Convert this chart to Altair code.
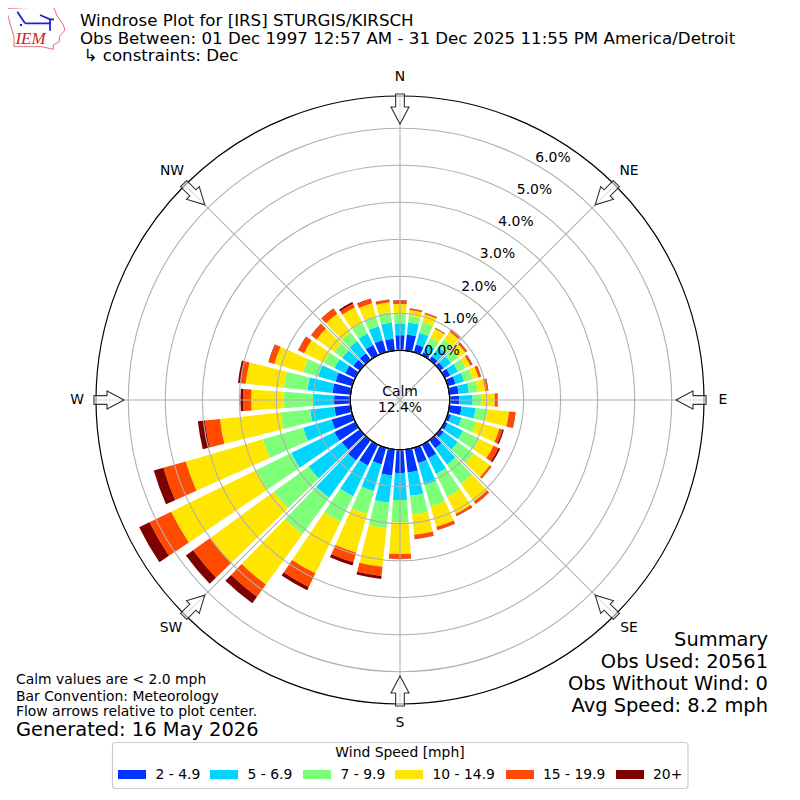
import math
import altair as alt
import pandas as pd

directions = list(range(0, 360, 10))
bands = ["2 - 4.9", "5 - 6.9", "7 - 9.9", "10 - 14.9", "15 - 19.9", "20+"]
colors = ["#0033ff", "#00d5ff", "#7dff7a", "#ffe600", "#ff4a00", "#7f0000"]
blue = [.41,.44,.22,.09,.12,.12,.17,.22,.25,.26,.33,.09,.09,.12,.27,.41,.43,.63,.63,.71,.47,.63,.68,.60,.63,.58,.44,.44,.49,.47,.31,.22,.22,.31,.34,.32]
cyan = [.32,.32,.33,.24,.31,.24,.23,.24,.28,.36,.38,.30,.46,.47,.55,.47,.62,.63,.73,.74,.75,.92,1.24,1.11,1.30,.80,.66,.57,.68,.49,.32,.37,.41,.35,.39,.44]
green = [.27,.18,.30,.20,.25,.23,.23,.24,.24,.24,.32,.41,.49,.53,.64,.69,.60,.51,.61,.69,.65,.77,1.22,1.16,1.05,1.13,.80,.80,.64,.42,.32,.27,.30,.31,.29,.28]
yellow = [.25,.16,.22,.27,.26,.25,.14,.16,.20,.36,.59,.65,.43,.54,.59,.51,.57,.55,.85,1.05,1.08,1.55,1.68,2.14,2.56,2.17,1.65,.87,1.04,.81,.59,.58,.61,.47,.36,.27]
orange = [.09,.04,.03,.02,.07,.05,.06,.07,.08,.07,.17,.09,.15,.05,.07,.06,.09,.11,.13,.25,.27,.41,.41,.56,.65,.63,.41,.22,.14,.16,.17,.18,.17,.11,.12,.07]
dark = [.01,.01,.01,.01,.01,.01,.01,.01,.01,.01,.01,.04,.05,.01,.01,.01,.01,.01,.01,.08,.09,.10,.22,.24,.31,.27,.19,.07,.07,.01,.01,.01,.01,.05,.01,.01]
series = [blue, cyan, green, yellow, orange, dark]
ring_values = [0, 1, 2, 3, 4, 5, 6]
compass = ["N", "NE", "E", "SE", "S", "SW", "W", "NW"]

FONT = "DejaVu Sans"
C = 392
R_OUT = 304
R_ZERO = 49.7
PX_PER = 37.0
P_MIN = -R_ZERO / PX_PER
P_MAX = (R_OUT - R_ZERO) / PX_PER
radius_scale = alt.Scale(domain=[P_MIN, P_MAX], range=[0, R_OUT], zero=False, nice=False)
theta_scale = alt.Scale(domain=[0, 360], range=[0, 2 * math.pi], zero=False, nice=False)
color_scale = alt.Scale(domain=bands, range=colors)
X = lambda f: alt.X(f, scale=None, axis=None)
Y = lambda f: alt.Y(f, scale=None, axis=None)

rows = []
for i, d in enumerate(directions):
    cum = 0.0
    for b, s in zip(bands, series):
        rows.append(dict(d=d, t0=d - 4, t1=d + 4, r0=cum, r1=cum + s[i], band=b))
        cum += s[i]
bars = alt.Chart(pd.DataFrame(rows)).mark_arc(stroke=None).encode(
    theta=alt.Theta("t0:Q", scale=theta_scale, stack=None),
    theta2="t1:Q",
    radius=alt.Radius("r1:Q", scale=radius_scale, stack=None),
    radius2="r0:Q",
    color=alt.Color("band:N", scale=color_scale, sort=None, legend=None),
)


def ring(values, color, width=1.1):
    return alt.Chart(pd.DataFrame({"p": values})).mark_arc(
        theta=0, theta2=2 * math.pi, fillOpacity=0, stroke=color, strokeWidth=width
    ).encode(radius=alt.Radius("p:Q", scale=radius_scale, stack=None))


rings = ring(ring_values, "#b0b0b0")
outer = ring([P_MAX], "black", 1.2)

spokes_df = pd.DataFrame([
    dict(x1=C, y1=C, x2=C + R_OUT * math.sin(math.radians(a)), y2=C - R_OUT * math.cos(math.radians(a)))
    for a in range(0, 360, 45)
])
spokes = alt.Chart(spokes_df).mark_rule(color="#b0b0b0", strokeWidth=1.1).encode(
    x=X("x1:Q"), y=Y("y1:Q"), x2="x2:Q", y2="y2:Q"
)

hub = alt.Chart(pd.DataFrame({"p": [0]})).mark_arc(
    theta=0, theta2=2 * math.pi, fill="white", stroke="black", strokeWidth=1.1
).encode(radius=alt.Radius("p:Q", scale=radius_scale, stack=None))

arrow_path = "M-.29,-1H.29V-.13H.6L0,1L-.6,-.13H-.29Z"
arrow_df = pd.DataFrame([
    dict(x=C + 291 * math.sin(math.radians(a)), y=C - 291 * math.cos(math.radians(a)), a=a)
    for a in range(0, 360, 45)
])
arrows = alt.Chart(arrow_df).mark_point(
    shape=arrow_path, size=900, filled=True, fill="white", fillOpacity=0.55,
    stroke="#333333", strokeWidth=1.1, opacity=1,
).encode(x=X("x:Q"), y=Y("y:Q"), angle=alt.Angle("a:Q", scale=None))


def text(items, size, align="center", color="black", **kw):
    df = pd.DataFrame([dict(t=t, x=x - 8, y=y - 8) for t, x, y in items])
    return alt.Chart(df).mark_text(
        font=kw.pop("font", FONT), fontSize=size, align=align, baseline="middle", color=color, **kw
    ).encode(x=X("x:Q"), y=Y("y:Q"), text="t:N")


titles = text([
    ("Windrose Plot for [IRS] STURGIS/KIRSCH", 80, 21),
    ("Obs Between: 01 Dec 1997 12:57 AM - 31 Dec 2025 11:55 PM America/Detroit", 80, 38.5),
    ("\u21b3 constraints: Dec", 83.5, 56),
], 16.67, "left")
compass_txt = text(list(zip(compass,
    [400, 629, 723, 629, 400, 171, 77, 172],
    [77, 171, 400, 628, 723, 628, 400, 171])), 13.9)
ring_txt = text([(f"{p:.1f}%", 442 + 18.5 * p, 351 - 32.2 * p) for p in ring_values], 13.9)
calm = text([("Calm", 400, 392), ("12.4%", 400, 408)], 13.9)
notes = text([
    ("Calm values are < 2.0 mph", 16, 680),
    ("Bar Convention: Meteorology", 16, 696.5),
    ("Flow arrows relative to plot center.", 16, 712),
], 13.9, "left")
generated = text([("Generated: 16 May 2026", 16, 729.5)], 19.44, "left")
summary = text([
    ("Summary", 768, 639.5),
    ("Obs Used: 20561", 768, 661.5),
    ("Obs Without Wind: 0", 768, 683.5),
    ("Avg Speed: 8.2 mph", 768, 705.5),
], 19.44, "right")

# legend panel
legend_box = alt.Chart(pd.DataFrame({"x": [112.5 - 8], "x2": [688 - 8], "y": [742.5 - 8], "y2": [788.5 - 8]})).mark_rect(
    fill="white", stroke="#cccccc", strokeWidth=1.2, cornerRadius=3
).encode(x=X("x:Q"), x2="x2:Q", y=Y("y:Q"), y2="y2:Q")
swatch_x = [118, 210, 303, 395, 506, 616]
label_x = [155.5, 247.5, 340.5, 432.5, 543, 653]
swatches = alt.Chart(pd.DataFrame([
    dict(band=b, x=x - 8, x2=x + 28 - 8, y=770 - 8, y2=779 - 8) for b, x in zip(bands, swatch_x)
])).mark_rect().encode(
    x=X("x:Q"), x2="x2:Q", y=Y("y:Q"), y2="y2:Q",
    color=alt.Color("band:N", scale=color_scale, sort=None, legend=None),
)
swatch_txt = text([(b, x, 774.5) for b, x in zip(bands, label_x)], 13.9, "left")
legend_title = text([("Wind Speed [mph]", 400, 753)], 13.9)


def path_of(strokes):
    out = ""
    for s in strokes:
        out += "M" + "L".join(f"{(x - 108) / 87:.3f},{(y - 84) / 87:.3f}" for x, y in s)
    return out


iowa = path_of([[(22, 25), (160, 20), (170, 45), (190, 75), (195, 90), (178, 110), (178, 125),
                 (160, 135), (160, 148), (125, 140), (42, 140), (42, 110), (30, 70), (22, 40), (22, 25)]])
glyph = path_of([[(75, 70), (150, 70)], [(75, 70), (52, 35)], [(120, 45), (150, 58), (162, 58)],
                 [(150, 58), (150, 92)], [(60, 75), (66, 75)]])
logo_df = pd.DataFrame({"x": [36 - 8], "y": [28 - 8]})
logo1 = alt.Chart(logo_df).mark_point(shape=iowa, size=3364, stroke="#e06060", strokeWidth=0.9, opacity=1, filled=False).encode(x=X("x:Q"), y=Y("y:Q"))
logo2 = alt.Chart(logo_df).mark_point(shape=glyph, size=3364, stroke="#2020cc", strokeWidth=1.8, opacity=1, filled=False).encode(x=X("x:Q"), y=Y("y:Q"))
logo3 = text([("IEM", 30.5, 38.5)], 17, color="#d02020", font="Liberation Serif", fontStyle="italic")

chart = alt.layer(
    bars, rings, spokes, hub, outer, arrows, titles, compass_txt, ring_txt, calm, notes,
    generated, summary, legend_box, swatches, swatch_txt, legend_title, logo1, logo2, logo3,
).resolve_scale(x="independent", y="independent").properties(
    width=784, height=784, padding=0, autosize=alt.AutoSizeParams(type="none"), background="white"
).configure_view(stroke=None)

chart.save("out.html", embed_options={"renderer": "svg", "actions": False})
